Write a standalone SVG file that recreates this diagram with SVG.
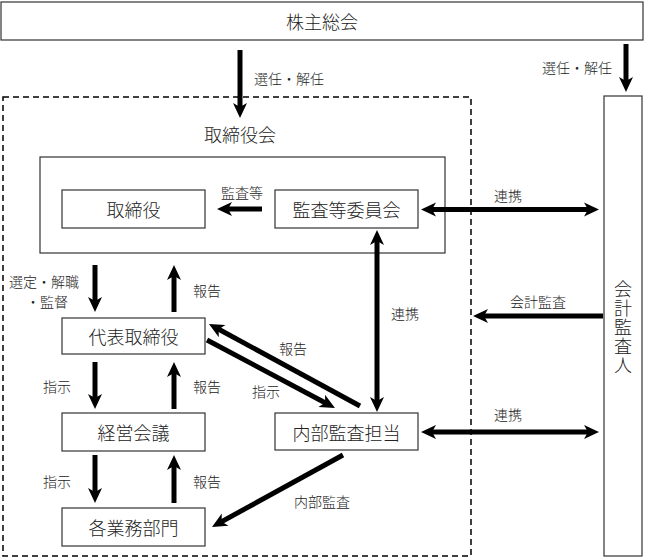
<svg xmlns="http://www.w3.org/2000/svg" width="645" height="559" viewBox="0 0 645 559">
<style>
.box{fill:#fff;stroke:#333;stroke-width:1.2}
.t{font-family:"Noto Sans CJK JP","Noto Sans CJK SC",sans-serif;font-weight:300;fill:#222;text-anchor:middle;dominant-baseline:central}
.big{font-size:18px}
.sm{font-size:14px}
.ar{fill:none;stroke:#000;stroke-width:5}
.vt{font-family:"Noto Sans CJK JP","Noto Sans CJK SC",sans-serif;font-weight:300;fill:#222;font-size:18px;writing-mode:vertical-rl;letter-spacing:1px;text-anchor:start}
</style>
<defs>
<marker id="ah" markerUnits="userSpaceOnUse" markerWidth="16" markerHeight="16" viewBox="0 0 16 16" refX="8" refY="8" orient="auto-start-reverse">
<path d="M16,8 L1,1 L5,8 L1,15 Z" fill="#000"/>
</marker>
</defs>
<rect width="645" height="559" fill="#fff"/>
<g id="shareholders"><rect class="box" x="1" y="2" width="642" height="38"/><text class="t big" x="322" y="21">株主総会</text></g>
<g id="board-frame"><rect x="3" y="97" width="468" height="459" fill="none" stroke="#000" stroke-width="1.5" stroke-dasharray="6,4"/><text class="t big" x="240" y="134">取締役会</text></g>
<g id="board-inner"><rect class="box" x="40" y="157" width="405" height="96"/></g>
<g id="directors"><rect class="box" x="62" y="190" width="143" height="38"/><text class="t big" x="133.5" y="209">取締役</text></g>
<g id="audit-committee"><rect class="box" x="275" y="190" width="143" height="38"/><text class="t big" x="346.5" y="209">監査等委員会</text></g>
<g id="representative"><rect class="box" x="62" y="318" width="143" height="36"/><text class="t big" x="133.5" y="336">代表取締役</text></g>
<g id="management-meeting"><rect class="box" x="62" y="413" width="143" height="38"/><text class="t big" x="133.5" y="432">経営会議</text></g>
<g id="departments"><rect class="box" x="62" y="508" width="143" height="38"/><text class="t big" x="133.5" y="527">各業務部門</text></g>
<g id="internal-audit"><rect class="box" x="275" y="413" width="143" height="37"/><text class="t big" x="346.5" y="431.5">内部監査担当</text></g>
<g id="accounting-auditor"><rect class="box" x="604" y="96" width="38" height="460"/>
<text class="vt" x="623" y="280">会計監査人</text></g>
<g id="connectors">
<path class="ar" d="M240,50 L240,110" marker-end="url(#ah)"/>
<path class="ar" d="M626,44 L626,84" marker-end="url(#ah)"/>
<path class="ar" d="M262,209 L225,209" marker-end="url(#ah)"/>
<path class="ar" d="M429,209.5 L591,209.5" marker-start="url(#ah)" marker-end="url(#ah)"/>
<path class="ar" d="M377,238 L377,404" marker-start="url(#ah)" marker-end="url(#ah)"/>
<path class="ar" d="M603,316 L481,316" marker-end="url(#ah)"/>
<path class="ar" d="M429,432 L591,432" marker-start="url(#ah)" marker-end="url(#ah)"/>
<path class="ar" d="M95,265 L95,304" marker-end="url(#ah)"/>
<path class="ar" d="M174,312 L174,273" marker-end="url(#ah)"/>
<path class="ar" d="M95,362 L95,401" marker-end="url(#ah)"/>
<path class="ar" d="M174,409 L174,370" marker-end="url(#ah)"/>
<path class="ar" d="M95,455 L95,495" marker-end="url(#ah)"/>
<path class="ar" d="M174,503 L174,463" marker-end="url(#ah)"/>
<path class="ar" d="M360,406 L216,327.8" marker-end="url(#ah)"/>
<path class="ar" d="M207,340 L327.9,404.2" marker-end="url(#ah)"/>
<path class="ar" d="M343,455 L219,523.1" marker-end="url(#ah)"/>
</g>
<g id="labels">
<text class="t sm" x="289" y="78">選任・解任</text>
<text class="t sm" x="577" y="67">選任・解任</text>
<text class="t sm" x="242" y="192">監査等</text>
<text class="t sm" x="508" y="195">連携</text>
<text class="t sm" x="405" y="313">連携</text>
<text class="t sm" x="538" y="301">会計監査</text>
<text class="t sm" x="508" y="414">連携</text>
<text class="t sm" x="44" y="281">選定・解職<tspan x="47" dy="20">・監督</tspan></text>
<text class="t sm" x="207" y="290">報告</text>
<text class="t sm" x="57" y="386">指示</text>
<text class="t sm" x="207" y="386">報告</text>
<text class="t sm" x="57" y="481">指示</text>
<text class="t sm" x="207" y="481">報告</text>
<text class="t sm" x="293" y="348">報告</text>
<text class="t sm" x="266" y="391">指示</text>
<text class="t sm" x="322" y="501">内部監査</text>
</g>
</svg>
